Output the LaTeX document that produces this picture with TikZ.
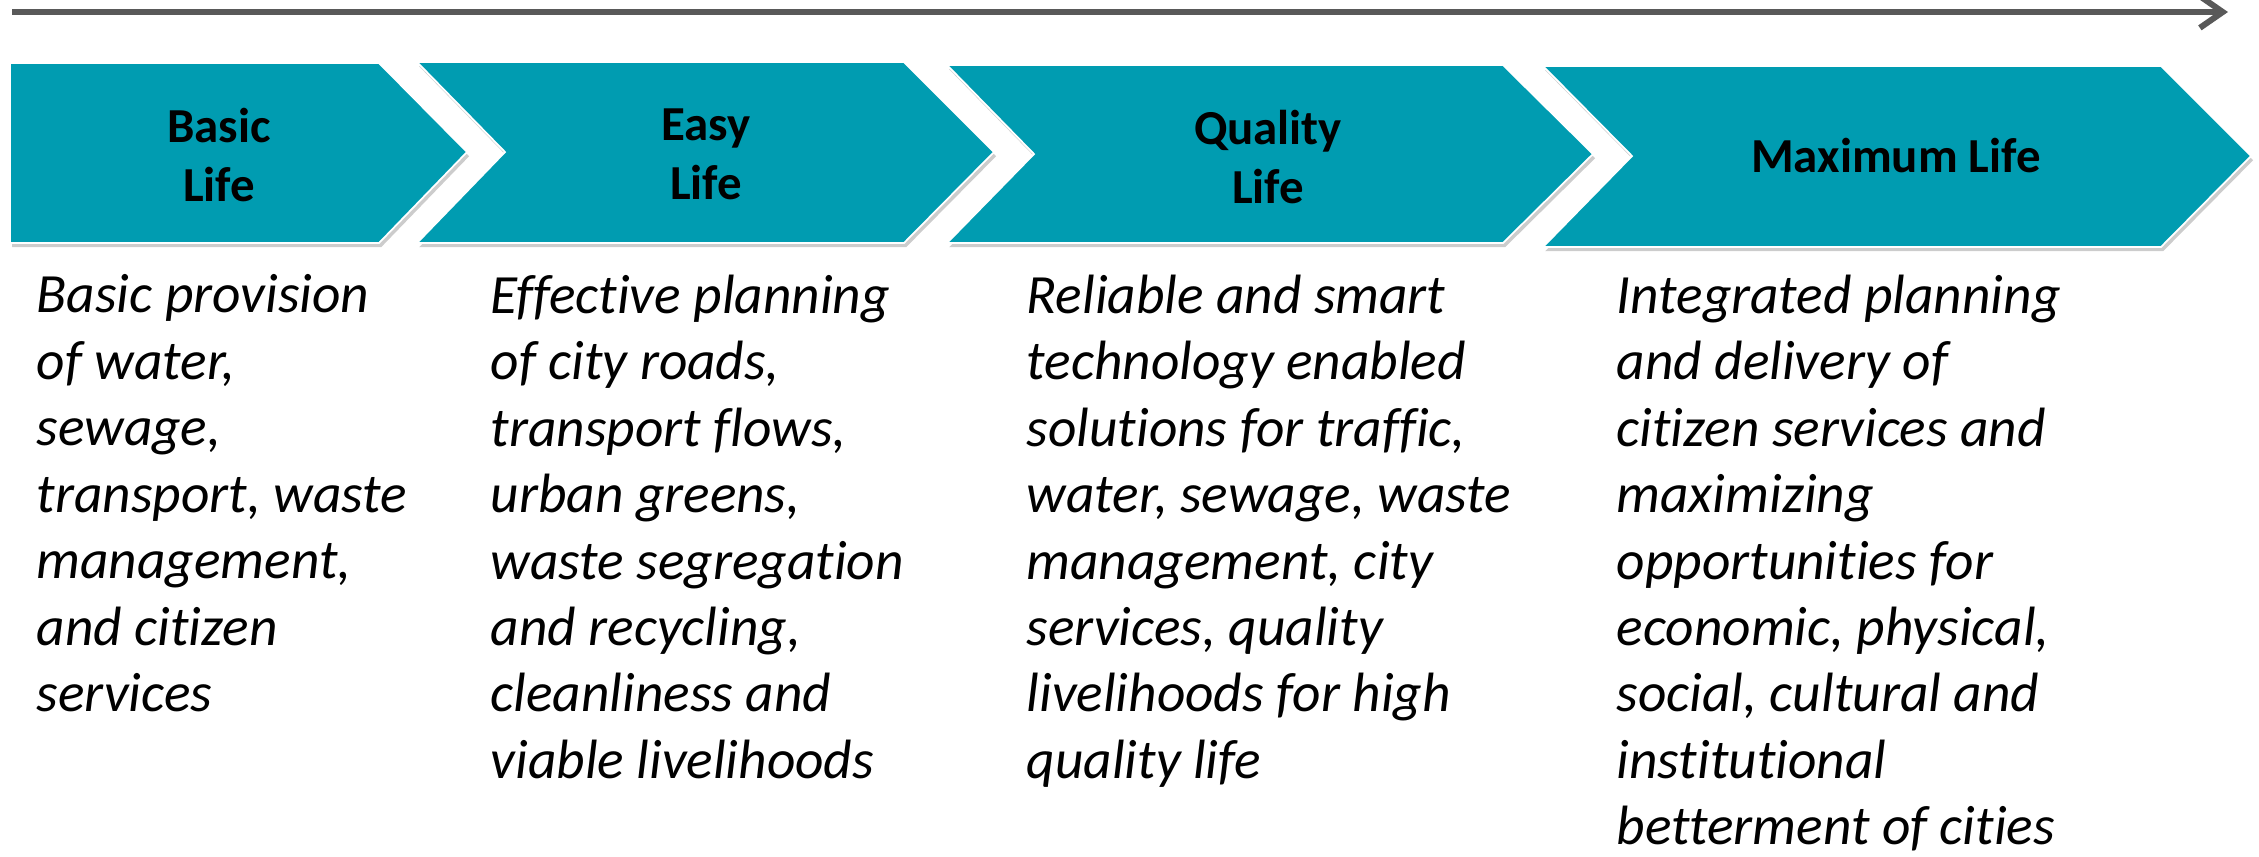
\documentclass[tikz,border=0pt]{standalone}
\usepackage{fontspec}
\setmainfont{Carlito}[Ligatures=NoCommon]
\usepackage{tikz}
\usetikzlibrary{arrows.meta}
\usetikzlibrary{shadows}
\definecolor{chevteal}{RGB}{0,156,177}
\definecolor{lineGray}{RGB}{89,89,89}

\tikzset{
  chevron/.style={fill=chevteal, draw=white, line width=0.5pt,
    drop shadow={shadow xshift=0.6pt, shadow yshift=-1.2pt, fill=black!40, opacity=0.5}},
  stagetitle/.style={font=\bfseries\fontsize{13.9}{16.8}\selectfont, align=center, inner sep=0pt},
  stagetext/.style={font=\itshape\fontsize{15.75}{18.9}\selectfont, align=left, anchor=north west, inner sep=0pt},
  timeline/.style={draw=lineGray, line width=1.7pt, -{Straight Barb[length=6.5pt, width=9pt]}}
}

\begin{document}
\begin{tikzpicture}[x=0.01cm, y=-0.01cm]
  \useasboundingbox (0,0) rectangle (2259,856);

  % time arrow
  \coordinate (tstart) at (12,12);
  \coordinate (tend) at (2228,12);
  \draw[timeline] (tstart) -- (tend);

  % chevrons
  \filldraw[chevron] (10,63) -- (379,63) -- (467,152) -- (379,243) -- (10,243) -- cycle;
  \filldraw[chevron] (417,62) -- (904,62) -- (994,152) -- (904,243) -- (417,243) -- (505,152) -- cycle;
  \filldraw[chevron] (947,65) -- (1503,65) -- (1593,154) -- (1503,243) -- (947,243) -- (1034,154) -- cycle;
  \filldraw[chevron] (1543,66) -- (2161,66) -- (2251,156) -- (2161,247) -- (1543,247) -- (1632,156) -- cycle;

  \node (basic) [stagetitle] at (219,155) {Basic\\Life};
  \node (easy) [stagetitle] at (706,154) {Easy\\Life};
  \node (quality) [stagetitle] at (1268,157) {Quality\\Life};
  \node (maximum) [stagetitle] at (1896,156) {Maximum Life};

  % descriptions
  \node (basictext) [stagetext] at (36,274) {Basic provision\\of water,\\sewage,\\transport, waste\\management,\\and citizen\\services};
  \node (easytext) [stagetext] at (490,274) {Effective planning\\of city roads,\\transport flows,\\urban greens,\\waste segregation\\and recycling,\\cleanliness and\\viable livelihoods};
  \node (qualitytext) [stagetext] at (1026,274) {Reliable and smart\\technology enabled\\solutions for traffic,\\water, sewage, waste\\management, city\\services, quality\\livelihoods for high\\quality life};
  \node (maximumtext) [stagetext] at (1616,274) {Integrated planning\\and delivery of\\citizen services and\\maximizing\\opportunities for\\economic, physical,\\social, cultural and\\institutional\\betterment of cities};
\end{tikzpicture}
\end{document}
